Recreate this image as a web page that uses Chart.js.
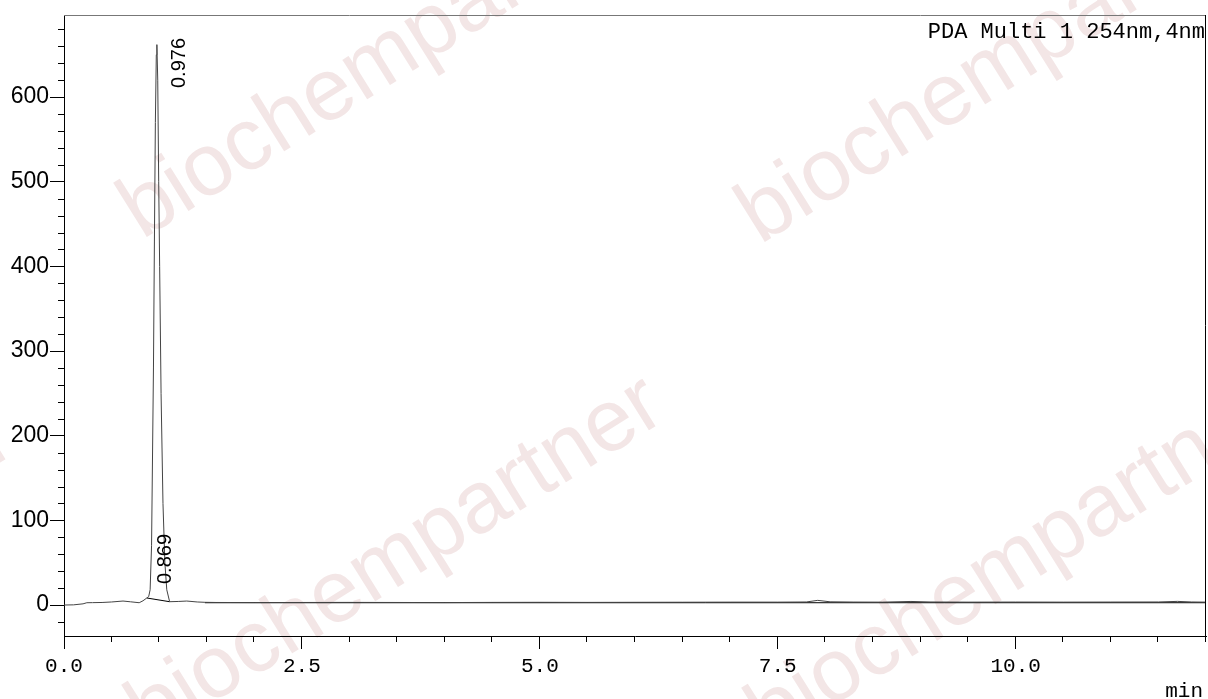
<!DOCTYPE html>
<html>
<head>
<meta charset="utf-8">
<script src="https://cdn.jsdelivr.net/npm/chart.js@4.4.1/dist/chart.umd.min.js"></script>
<style>
  html, body { margin: 0; padding: 0; background: #fff; }
</style>
</head>
<body>
<canvas id="chrom" width="1208" height="699"></canvas>
<script>
// retention time (min) and detector signal (mAU)
const times = [0, 0.1, 0.2, 0.24, 0.3, 0.4, 0.5, 0.62, 0.7, 0.79, 0.83, 0.87, 0.89, 0.905, 0.92, 0.94, 0.95, 0.96, 0.97, 0.976,
  0.985, 0.995, 1.005, 1.02, 1.04, 1.06, 1.08, 1.11, 1.2, 1.29, 1.4, 1.48, 1.6, 2.0, 2.5, 3.0, 3.5, 4.0, 4.5, 5.0,
  5.5, 6.0, 6.5, 7.0, 7.5, 7.8, 7.92, 8.05, 8.3, 8.6, 8.9, 9.1, 9.5, 10.0, 10.5, 11.0, 11.5, 11.7, 11.85, 12.0];
const signal = [0, 0.2, 1.4, 2.7, 2.8, 3.0, 3.6, 4.7, 3.8, 2.7, 5.0, 8.3, 10, 18, 70, 280, 430, 570, 650, 662,
  620, 500, 400, 250, 120, 50, 18, 3.9, 4.2, 4.7, 3.6, 3.2, 3.0, 2.9, 3.0, 3.1, 3.0, 2.9, 3.1, 3.2,
  3.1, 3.2, 3.3, 3.4, 3.4, 3.6, 5.5, 3.8, 3.5, 3.4, 4.2, 3.6, 3.4, 3.5, 3.4, 3.5, 3.6, 4.3, 3.6, 3.4];

// integration baselines
const peakBaseTimes = [0.87, 1.11];
const peakBaseValues = [8.3, 3.9];
const driftBaseTimes = [1.48, 12.0];
const driftBaseValues = [2.7, 2.7];

// peak annotations
const peakTimes = [0.869, 0.976];
const peakLabels = ['0.869', '0.976'];

// axes
const xTicks = [0, 2.5, 5, 7.5, 10];
const xTickLabels = ['0.0', '2.5', '5.0', '7.5', '10.0'];
const xMinorTicks = [0.5, 1, 1.5, 2, 3, 3.5, 4, 4.5, 5.5, 6, 6.5, 7, 8, 8.5, 9, 9.5, 10.5, 11, 11.5, 12];
const yTicks = [0, 100, 200, 300, 400, 500, 600];
const yMinorTicks = [-20, 20, 40, 60, 80, 120, 140, 160, 180, 220, 240, 260, 280, 320, 340, 360, 380,
  420, 440, 460, 480, 520, 540, 560, 580, 620, 640, 660, 680];

const toPoints = (xs, ys) => xs.map((x, i) => ({ x: x, y: ys[i] }));

const decorations = {
  id: 'decorations',
  beforeDraw(chart) {
    const ctx = chart.ctx;
    ctx.save();
    ctx.fillStyle = '#fff';
    ctx.fillRect(0, 0, chart.width, chart.height);
    // watermark
    ctx.font = '88px "Liberation Sans", Arial, sans-serif';
    ctx.fillStyle = '#f3e6e6';
    ctx.textBaseline = 'alphabetic';
    ctx.textAlign = 'left';
    [[142, 240], [760, 245], [150, 742], [770, 745], [-500, 775]].forEach(([x, y]) => {
      ctx.save();
      ctx.translate(x, y);
      ctx.rotate(-32 * Math.PI / 180);
      ctx.fillText('biochempartner', 0, 0);
      ctx.restore();
    });
    ctx.restore();
  },
  afterDraw(chart) {
    const ctx = chart.ctx;
    const a = chart.chartArea;
    const xs = chart.scales.x, ys = chart.scales.y;
    ctx.save();
    ctx.lineWidth = 1;
    // top and right frame
    ctx.strokeStyle = '#777';
    ctx.beginPath();
    ctx.moveTo(a.left, a.top + 0.5);
    ctx.lineTo(a.right, a.top + 0.5);
    ctx.stroke();
    ctx.strokeStyle = '#000';
    ctx.beginPath();
    ctx.moveTo(a.right - 0.5, a.top);
    ctx.lineTo(a.right - 0.5, a.bottom);
    ctx.stroke();
    // minor ticks
    ctx.beginPath();
    yMinorTicks.forEach(v => {
      const y = Math.round(ys.getPixelForValue(v)) + 0.5;
      ctx.moveTo(a.left - 6, y);
      ctx.lineTo(a.left, y);
    });
    xMinorTicks.forEach(v => {
      const x = Math.round(xs.getPixelForValue(v)) - 0.5;
      ctx.moveTo(x, a.bottom);
      ctx.lineTo(x, a.bottom + 6);
    });
    ctx.stroke();
    // peak labels, rotated
    ctx.fillStyle = '#000';
    ctx.font = '20px "Liberation Sans", Arial, sans-serif';
    ctx.textAlign = 'left';
    ctx.textBaseline = 'alphabetic';
    const place = [{ dx: 24, y: 584 }, { dx: 28, y: 88 }];
    peakTimes.forEach((t, i) => {
      ctx.save();
      ctx.translate(xs.getPixelForValue(t) + place[i].dx, place[i].y);
      ctx.rotate(-Math.PI / 2);
      ctx.fillText(peakLabels[i], 0, 0);
      ctx.restore();
    });
    // channel and unit
    ctx.font = '22px "Liberation Mono", "DejaVu Sans Mono", monospace';
    ctx.textAlign = 'right';
    ctx.fillText('PDA Multi 1 254nm,4nm', a.right - 1, a.top + 23);
    ctx.font = '21px "Liberation Mono", "DejaVu Sans Mono", monospace';
    ctx.fillText('min', a.right - 3, chart.height - 2);
    ctx.restore();
  }
};

new Chart(document.getElementById('chrom'), {
  type: 'line',
  data: {
    datasets: [
      {
        label: 'PDA Multi 1',
        data: toPoints(times, signal),
        borderColor: '#444',
        borderWidth: 1,
        pointRadius: 0,
        tension: 0
      },
      {
        label: 'peak baseline',
        data: toPoints(peakBaseTimes, peakBaseValues),
        borderColor: '#000',
        borderWidth: 1,
        pointRadius: 0
      },
      {
        label: 'drift baseline',
        data: toPoints(driftBaseTimes, driftBaseValues),
        borderColor: '#000',
        borderWidth: 1,
        pointRadius: 0
      }
    ]
  },
  options: {
    responsive: false,
    animation: false,
    devicePixelRatio: 1,
    layout: { padding: { top: 15, right: 2, left: 0, bottom: 0 } },
    plugins: { legend: { display: false }, tooltip: { enabled: false } },
    scales: {
      x: {
        type: 'linear',
        min: 0,
        max: 12,
        afterBuildTicks: s => { s.ticks = xTicks.map(v => ({ value: v })); },
        afterFit: s => { s.height = 63; },
        grid: { drawOnChartArea: false, tickLength: 13, color: '#000', lineWidth: 1 },
        border: { display: true, color: '#000', width: 1 },
        ticks: {
          autoSkip: false,
          maxRotation: 0,
          padding: 5,
          color: '#000',
          font: { family: '"Liberation Mono", "DejaVu Sans Mono", monospace', size: 21 },
          callback: (v, i) => xTickLabels[i]
        }
      },
      y: {
        type: 'linear',
        min: -36.6,
        max: 697,
        afterBuildTicks: s => { s.ticks = yTicks.map(v => ({ value: v })); },
        afterFit: s => { s.width = 64; },
        grid: { drawOnChartArea: false, tickLength: 14, color: '#000', lineWidth: 1 },
        border: { display: true, color: '#000', width: 1 },
        ticks: {
          autoSkip: false,
          padding: 1,
          color: '#000',
          font: { family: '"Liberation Sans", Arial, sans-serif', size: 23 },
          callback: v => String(v)
        }
      }
    }
  },
  plugins: [decorations]
});
</script>
</body>
</html>
